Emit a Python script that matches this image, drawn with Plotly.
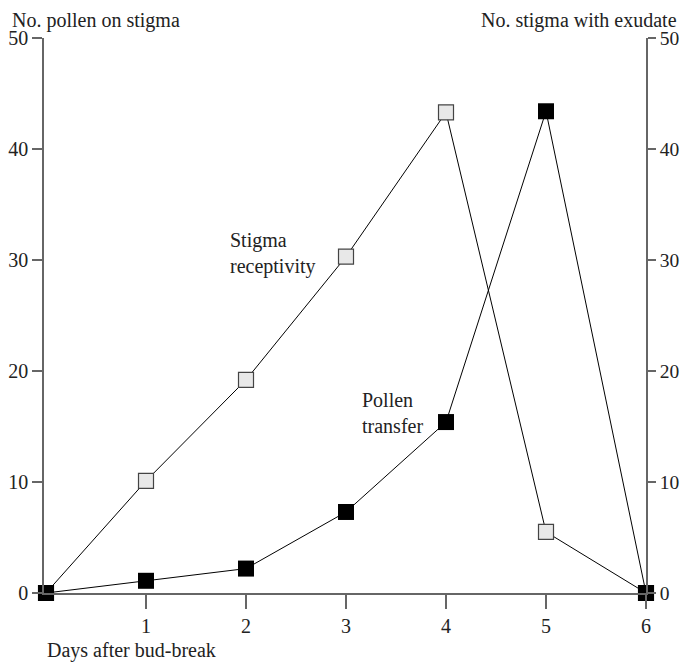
import plotly.graph_objects as go

days = [0, 1, 2, 3, 4, 5, 6]
stigma_receptivity = [0, 10.1, 19.2, 30.3, 43.3, 5.5, 0]
pollen_transfer = [0, 1.1, 2.2, 7.3, 15.4, 43.4, 0]
x_ticks = [1, 2, 3, 4, 5, 6]
y_ticks = [0, 10, 20, 30, 40, 50]

OFF = 8  # page body margin
W, H = 688 - 2 * OFF, 670 - 2 * OFF   # fit page without scrollbars
PL, PR, PT, PB = 44, 646, 38, 593     # plot area in page pixels
L, T = PL - OFF, PT - OFF
R = W - (PR - OFF)
B = H - (PB - OFF)
PW = W - L - R
PH = H - T - B
FONT = "Liberation Serif, Times New Roman, serif"
FS = 20
TFS = 20
COL = "#222"
AX = "#666"

fig = go.Figure()
fig.add_trace(go.Scatter(
    x=days, y=stigma_receptivity, mode="lines+markers",
    line=dict(color="black", width=1),
    marker=dict(symbol="square", size=15, color="#e8e8e8", line=dict(color="#444", width=1.2)),
    cliponaxis=False, showlegend=False))
fig.add_trace(go.Scatter(
    x=days, y=pollen_transfer, yaxis="y2", mode="lines+markers",
    line=dict(color="black", width=1),
    marker=dict(symbol="square", size=16, color="black", line=dict(color="black", width=0)),
    cliponaxis=False, showlegend=False))

axis_common = dict(showgrid=False, zeroline=False, showline=True, linecolor=AX, linewidth=1.5,
                   ticks="outside", tickcolor=AX, tickwidth=1.5, automargin=False)

def px_x(p):  # page pixel -> paper x
    return (p - PL) / PW

def px_y(p):  # page pixel -> paper y
    return (PB - p) / PH

fig.update_layout(
    template="none",
    width=W, height=H, autosize=False, margin=dict(l=L, r=R, t=T, b=B, pad=0),
    plot_bgcolor="white", paper_bgcolor="white",
    font=dict(family=FONT, size=FS, color=COL),
    xaxis=dict(range=[-0.02, 6.0], tickvals=x_ticks, ticklen=14,
               tickfont=dict(family=FONT, size=TFS, color=COL), **axis_common),
    yaxis=dict(range=[0, 50], tickvals=y_ticks, ticklen=10,
               tickfont=dict(family=FONT, size=TFS, color=COL), **axis_common),
    yaxis2=dict(range=[0, 50], tickvals=y_ticks, ticklen=8, overlaying="y", side="right",
                tickfont=dict(family=FONT, size=19.5, color=COL), **axis_common),
    annotations=[
        dict(text="No. pollen on stigma", xref="paper", yref="paper",
             x=px_x(10), y=px_y(20), xanchor="left", yanchor="middle",
             showarrow=False, font=dict(family=FONT, size=FS, color=COL)),
        dict(text="No. stigma with exudate", xref="paper", yref="paper",
             x=px_x(679), y=px_y(20), xanchor="right", yanchor="middle",
             showarrow=False, font=dict(family=FONT, size=FS, color=COL)),
        dict(text="Days after bud-break", xref="paper", yref="paper",
             x=px_x(45), y=px_y(650), xanchor="left", yanchor="middle",
             showarrow=False, font=dict(family=FONT, size=FS, color=COL)),
        dict(text="Stigma<br>receptivity", xref="x", yref="y", x=1.82, y=30.6,
             xanchor="left", yanchor="middle", align="left", showarrow=False,
             font=dict(family=FONT, size=FS, color=COL)),
        dict(text="Pollen<br>transfer", xref="x", yref="y", x=3.14, y=16.2,
             xanchor="left", yanchor="middle", align="left", showarrow=False,
             font=dict(family=FONT, size=FS, color=COL)),
    ],
)

fig.write_html("out.html")
